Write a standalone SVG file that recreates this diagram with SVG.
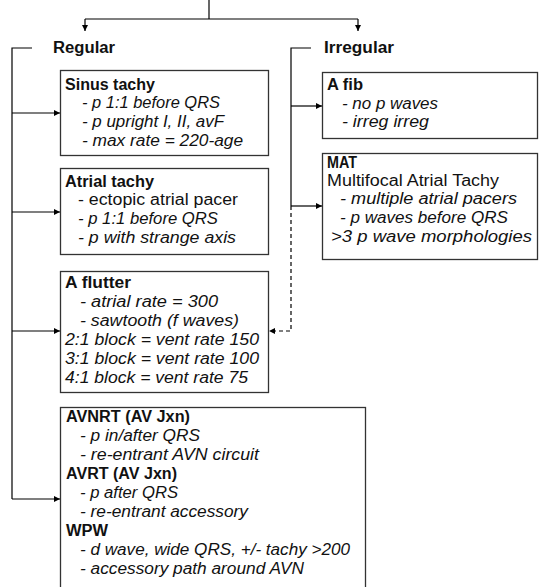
<svg xmlns="http://www.w3.org/2000/svg" width="540" height="587" viewBox="0 0 540 587">
<defs>
<marker id="ah" viewBox="0 0 10 10" refX="10" refY="5" markerWidth="6" markerHeight="6" markerUnits="userSpaceOnUse" orient="auto"><path d="M0,0 L10,5 L0,10 z" fill="#000"/></marker>
<style>
.box{fill:#fff;stroke:#333;stroke-width:1.3}
.ln{fill:none;stroke:#000;stroke-width:1.2}
.dash{fill:none;stroke:#000;stroke-width:1.2;stroke-dasharray:4 3}
text{font-family:"Liberation Sans",Arial,sans-serif;fill:#111;font-size:16px}
.h{font-weight:bold;font-size:16px}
.i{font-style:italic}
</style>
</defs>
<rect width="540" height="587" fill="#fff"/>
<g id="connectors">
<path class="ln" d="M209,0 V19"/>
<path class="ln" d="M85,19 H358"/>
<path class="ln" d="M85,19 V31" marker-end="url(#ah)"/>
<path class="ln" d="M358,19 V31" marker-end="url(#ah)"/>
<path class="ln" d="M32,48 H12 V499"/>
<path class="ln" d="M12,113 H60" marker-end="url(#ah)"/>
<path class="ln" d="M12,212 H60" marker-end="url(#ah)"/>
<path class="ln" d="M12,331 H60" marker-end="url(#ah)"/>
<path class="ln" d="M12,499 H60" marker-end="url(#ah)"/>
<path class="ln" d="M311,48 H291 V206"/>
<path class="ln" d="M291,106 H322" marker-end="url(#ah)"/>
<path class="ln" d="M291,206 H322" marker-end="url(#ah)"/>
<path class="dash" d="M291,206 V331 H269" marker-end="url(#ah)"/>
</g>
<g id="regular"><text class="h" x="53" y="53" textLength="62" lengthAdjust="spacingAndGlyphs">Regular</text></g>
<g id="irregular"><text class="h" x="324" y="53" textLength="70" lengthAdjust="spacingAndGlyphs">Irregular</text></g>
<g id="sinus">
<rect class="box" x="60.5" y="70.5" width="208" height="85"/>
<text class="h" x="65" y="90" textLength="90" lengthAdjust="spacingAndGlyphs">Sinus tachy</text>
<text class="i" x="82" y="108" textLength="138" lengthAdjust="spacingAndGlyphs">- p 1:1 before QRS</text>
<text class="i" x="82" y="127" textLength="142" lengthAdjust="spacingAndGlyphs">- p upright I, II, avF</text>
<text class="i" x="82" y="146" textLength="161" lengthAdjust="spacingAndGlyphs">- max rate = 220-age</text>
</g>
<g id="afib">
<rect class="box" x="322.5" y="72.5" width="215" height="66"/>
<text class="h" x="327" y="90" textLength="36" lengthAdjust="spacingAndGlyphs">A fib</text>
<text class="i" x="342" y="109" textLength="96" lengthAdjust="spacingAndGlyphs">- no p waves</text>
<text class="i" x="342" y="127" textLength="87" lengthAdjust="spacingAndGlyphs">- irreg irreg</text>
</g>
<g id="atrial">
<rect class="box" x="60.5" y="168.5" width="208" height="86"/>
<text class="h" x="65" y="187" textLength="89" lengthAdjust="spacingAndGlyphs">Atrial tachy</text>
<text x="78" y="205" textLength="160" lengthAdjust="spacingAndGlyphs">- ectopic atrial pacer</text>
<text class="i" x="78" y="224" textLength="140" lengthAdjust="spacingAndGlyphs">- p 1:1 before QRS</text>
<text class="i" x="78" y="243" textLength="158" lengthAdjust="spacingAndGlyphs">- p with strange axis</text>
</g>
<g id="mat">
<rect class="box" x="322.5" y="153.5" width="215" height="106"/>
<text class="h" x="327" y="168" textLength="30" lengthAdjust="spacingAndGlyphs">MAT</text>
<text x="327" y="186" textLength="172" lengthAdjust="spacingAndGlyphs">Multifocal Atrial Tachy</text>
<text class="i" x="340" y="204" textLength="177" lengthAdjust="spacingAndGlyphs">- multiple atrial pacers</text>
<text class="i" x="340" y="223" textLength="168" lengthAdjust="spacingAndGlyphs">- p waves before QRS</text>
<text class="i" x="331" y="242" textLength="201" lengthAdjust="spacingAndGlyphs">&gt;3 p wave morphologies</text>
</g>
<g id="aflutter">
<rect class="box" x="60.5" y="271.5" width="208" height="121"/>
<text class="h" x="65" y="288" textLength="66" lengthAdjust="spacingAndGlyphs">A flutter</text>
<text class="i" x="80" y="307" textLength="138" lengthAdjust="spacingAndGlyphs">- atrial rate = 300</text>
<text class="i" x="80" y="326" textLength="159" lengthAdjust="spacingAndGlyphs">- sawtooth (f waves)</text>
<text class="i" x="65" y="345" textLength="194" lengthAdjust="spacingAndGlyphs">2:1 block = vent rate 150</text>
<text class="i" x="65" y="364" textLength="194" lengthAdjust="spacingAndGlyphs">3:1 block = vent rate 100</text>
<text class="i" x="65" y="383" textLength="183" lengthAdjust="spacingAndGlyphs">4:1 block = vent rate 75</text>
</g>
<g id="avnrt">
<rect class="box" x="60.5" y="407.5" width="305" height="185"/>
<text class="h" x="66" y="422" textLength="124" lengthAdjust="spacingAndGlyphs">AVNRT (AV Jxn)</text>
<text class="i" x="80" y="441" textLength="120" lengthAdjust="spacingAndGlyphs">- p in/after QRS</text>
<text class="i" x="80" y="460" textLength="179" lengthAdjust="spacingAndGlyphs">- re-entrant AVN circuit</text>
<text class="h" x="66" y="479" textLength="111" lengthAdjust="spacingAndGlyphs">AVRT (AV Jxn)</text>
<text class="i" x="80" y="498" textLength="98" lengthAdjust="spacingAndGlyphs">- p after QRS</text>
<text class="i" x="80" y="517" textLength="168" lengthAdjust="spacingAndGlyphs">- re-entrant accessory</text>
<text class="h" x="66" y="536" textLength="42" lengthAdjust="spacingAndGlyphs">WPW</text>
<text class="i" x="80" y="555" textLength="270" lengthAdjust="spacingAndGlyphs">- d wave, wide QRS, +/- tachy &gt;200</text>
<text class="i" x="80" y="574" textLength="224" lengthAdjust="spacingAndGlyphs">- accessory path around AVN</text>
</g>
</svg>
